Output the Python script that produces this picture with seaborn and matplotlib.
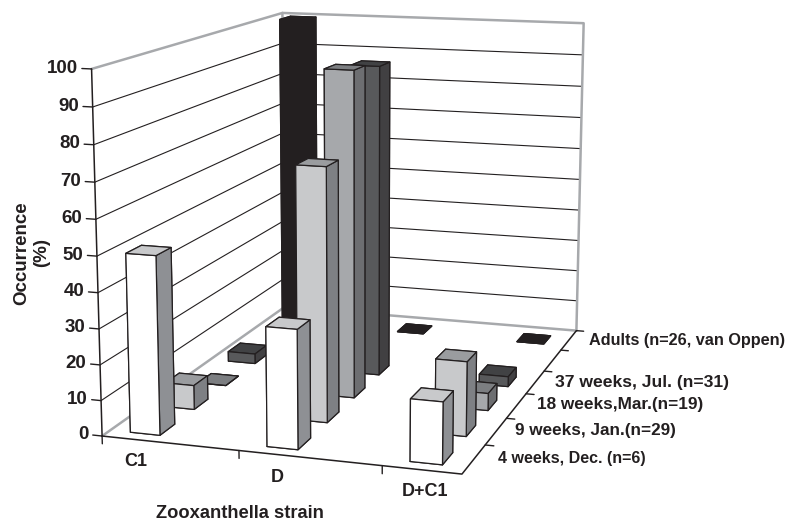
import matplotlib
matplotlib.use('Agg')
import matplotlib.pyplot as plt
import seaborn as sns
from mpl_toolkits.mplot3d import proj3d

strains = ['C1', 'D', 'D+C1']
# position 4 on the depth axis is an empty row in the original chart
rows = [0, 1, 2, 3, 5]
row_names = ['4 weeks, Dec. (n=6)', '9 weeks, Jan.(n=29)', '18 weeks,Mar.(n=19)',
             '37 weeks, Jul. (n=31)', 'Adults (n=26, van Oppen)']
c1 = [50, 7, 0, 3, 100]
d = [33, 72, 95, 93, 0]
d_c1 = [17, 21, 5, 3, 0]
values = [c1, d, d_c1]

sns.set_theme(style='white')
plt.rcParams['font.family'] = ['Liberation Sans', 'DejaVu Sans']
plt.rcParams['font.weight'] = 'bold'
ink = '#231f20'
frame_grey = '#a7a9ac'

# one colour per series, for the three visible faces
front = sns.color_palette(['#ffffff', '#c8c9cb', '#a6a8ab', '#58595b', '#231f20'])
top = sns.color_palette(['#c8c9cb', '#9a9c9f', '#7c7e81', '#414244', '#231f20'])
side = sns.color_palette(['#8e9094', '#7e8084', '#6d6e71', '#414042', '#231f20'])

# camera found by fitting the chart's box corners
xmax = 2.5369
scale, tx, ty = 3643.79, 360.79, 214.25
size = scale * 0.185

fig = plt.figure(figsize=(7.86, 5.21), dpi=100)
ax = fig.add_subplot(projection='3d', computed_zorder=False)
ax.view_init(11.9, -72.296)
ax.set_proj_type('persp', focal_length=0.5354)
ax.set_box_aspect((1.0065, 1.4535, 1))
ax.set_xlim(0, xmax)
ax.set_ylim(0, 6)
ax.set_zlim(0, 100)
ax.set_position([(tx - 0.095 * scale) / 786, (521 - (ty + 0.095 * scale)) / 521, size / 786, size / 521])
ax.set_xticks([])
ax.set_yticks([])
ax.set_zticks([])
ax.set_axis_off()

# walls
for z in range(10, 100, 10):
    ax.plot([0, 0, xmax], [0, 6, 6], [z, z, z], color=ink, lw=0.8, zorder=1)
ax.plot([0, 0, xmax, xmax], [0, 6, 6, 6], [100, 100, 100, 0], color=frame_grey, lw=1.8, zorder=2)
ax.plot([0, 0, xmax], [0, 6, 6], [0, 0, 0], color=frame_grey, lw=1.8, zorder=2)
ax.plot([0, 0], [6, 6], [0, 100], color=frame_grey, lw=1.8, zorder=2)

# bars, back row first
order = 10
for j in range(len(rows) - 1, -1, -1):
    for i in range(len(strains)):
        faces = [front[j], top[j], front[j], front[j], side[j], side[j]]
        bar = ax.bar3d(i + 0.15, rows[j] + 0.22, 0, 0.22, 0.42, values[i][j],
                       color=faces, edgecolor=ink, linewidth=0.9, shade=False)
        bar.set_zorder(order)
        order += 1

# axes and ticks
ax.plot([0, 0], [0, 0], [0, 100], color=ink, lw=1.1, zorder=60)
ax.plot([0, xmax, xmax], [0, 0, 6], [0, 0, 0], color=ink, lw=1.1, zorder=60)
camera = ax.get_proj()
for z in range(0, 101, 10):
    ax.plot([-0.07, 0], [0, 0], [z, z], color=ink, lw=1.0, zorder=60)
    # plain 2D text placed at the projected tick position
    px, py, _ = proj3d.proj_transform(-0.1, 0, z, camera)
    ax.text2D(px, py, str(z), transform=ax.transData, ha='right', va='center',
              fontsize=13.5, color=ink, zorder=61)
for k in [0, 1, 2]:
    ax.plot([k, k], [0, 0], [0, -2.2], color=ink, lw=1.0, zorder=60)
for r in range(1, 7):
    ax.plot([xmax, xmax + 0.06], [r, r], [0, 0], color=ink, lw=1.0, zorder=60)


def label(px, py, text, **kw):
    fig.text(px / 786, 1 - py / 521, text, color=ink, va='center', **kw)


for name, px, py in zip(strains, [136, 277, 425], [461, 477, 492]):
    label(px, py, name, ha='center', fontsize=13)
row_sizes = [11.5, 12.3, 12.4, 12.6, 11.7]
for name, px, py, fs in zip(row_names, [498, 515, 537, 555, 589], [458, 430, 405, 382, 340], row_sizes):
    label(px, py, name, ha='left', fontsize=fs)
label(240, 513, 'Zooxanthella strain', ha='center', fontsize=13.2)
label(32, 253, 'Occurrence\n(%)', ha='center', rotation=90, fontsize=13.5, linespacing=1.2, multialignment='center')

fig.savefig('out.png', dpi=100)
